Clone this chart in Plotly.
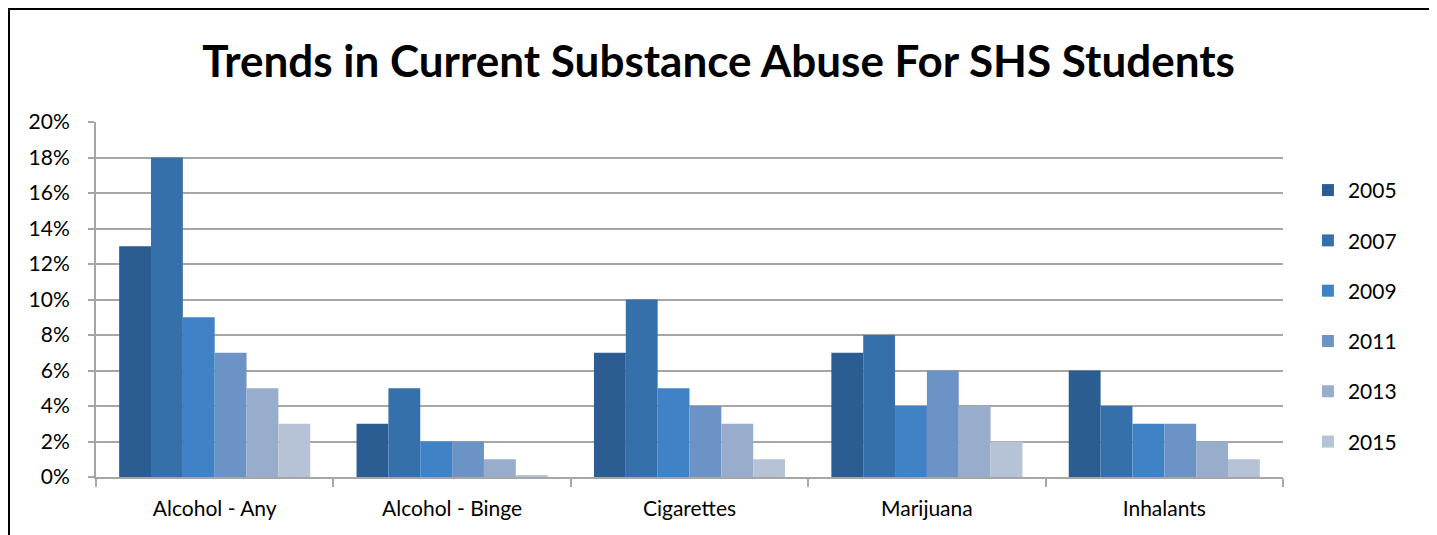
import plotly.graph_objects as go

categories = ["Alcohol - Any", "Alcohol - Binge", "Cigarettes", "Marijuana", "Inhalants"]
years = ["2005", "2007", "2009", "2011", "2013", "2015"]

# percent values per year, in category order
values = {
    "2005": [13, 3, 7, 7, 6],
    "2007": [18, 5, 10, 8, 4],
    "2009": [9, 2, 5, 4, 3],
    "2011": [7, 2, 4, 6, 3],
    "2013": [5, 1, 3, 4, 2],
    "2015": [3, 0.1, 1, 2, 1],
}

colors = ["#2b5d92", "#3670ab", "#3f82c6", "#6c93c6", "#98adcc", "#b6c3d7"]

fig = go.Figure()
for yr, col in zip(years, colors):
    fig.add_trace(
        go.Bar(
            x=categories,
            y=[v / 100 for v in values[yr]],
            name=yr,
            marker=dict(color=col, line=dict(width=0)),
            legendgroup=yr,
        )
    )

# the page adds an 8px body margin, so margins are shifted by 8px
fig.update_layout(
    width=1437,
    height=535,
    margin=dict(l=88, r=162, t=114, b=66),
    paper_bgcolor="white",
    plot_bgcolor="white",
    barmode="group",
    bargap=0.195,
    bargroupgap=0,
    font=dict(family="Lato", size=21, color="black"),
    title=dict(
        text="<b>Trends in Current Substance Abuse For SHS Students</b>",
        x=0.4945,
        xanchor="center",
        y=0.9,
        yanchor="middle",
        font=dict(family="Lato", size=44, color="black"),
    ),
    legend=dict(
        x=1.021,
        y=0.865,
        xanchor="left",
        yanchor="top",
        tracegroupgap=20,
        font=dict(size=21),
        itemwidth=30,
    ),
    showlegend=True,
)

fig.update_yaxes(
    range=[0, 0.2],
    dtick=0.02,
    tickformat=".0%",
    showgrid=True,
    gridcolor="#a6a6a6",
    gridwidth=2,
    showline=True,
    linecolor="#a6a6a6",
    linewidth=2,
    ticks="outside",
    ticklen=6,
    tickcolor="#a6a6a6",
    tickwidth=2,
    ticklabelstandoff=14,
    zeroline=False,
    tickfont=dict(size=21),
)

fig.update_xaxes(
    showline=True,
    linecolor="#a6a6a6",
    linewidth=2,
    ticks="outside",
    tickson="boundaries",
    ticklen=8,
    tickcolor="#a6a6a6",
    tickwidth=2,
    ticklabelstandoff=12,
    tickfont=dict(size=21),
)

# outer black frame of the chart
fig.add_shape(
    type="rect",
    xref="paper",
    yref="paper",
    x0=(1 - 88) / 1187,
    x1=(1422 - 88) / 1187,
    y0=-0.25,
    y1=(355 + 114 - 1) / 355,
    line=dict(color="black", width=2),
    layer="below",
)

fig.write_html("out.html")
